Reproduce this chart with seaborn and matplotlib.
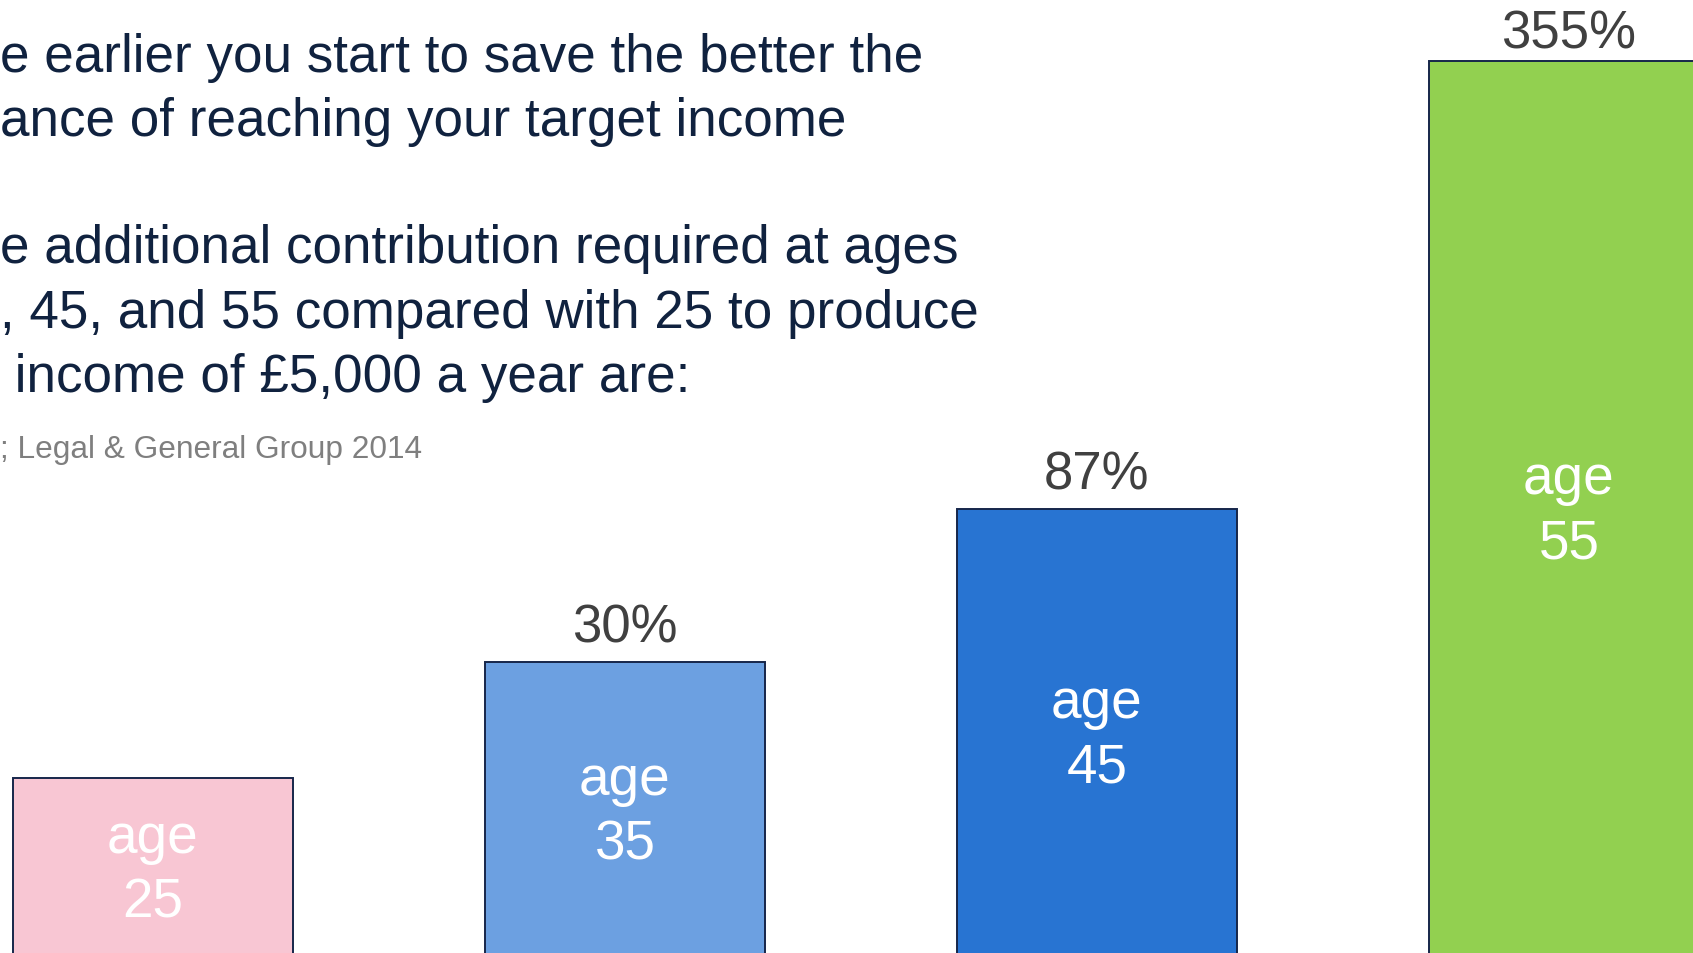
import matplotlib
matplotlib.use("Agg")
import matplotlib.pyplot as plt
import pandas as pd
import seaborn as sns

# data
ages = ["25", "35", "45", "55"]
bar_height = [184, 300, 453, 901]          # drawn height of each bar (slide units)
extra_pct = ["", "30%", "87%", "355%"]      # extra contribution compared with age 25
bar_colors = ["#F8C6D3", "#6CA0E1", "#2874D2", "#92D050"]

title_lines = [
    "e earlier you start to save the better the",
    "ance of reaching your target income",
    "e additional contribution required at ages",
    ", 45, and 55 compared with 25 to produce",
    " income of £5,000 a year are:",
]
title_baselines = [72, 136, 263, 328, 392]  # px from top
source_text = "; Legal & General Group 2014"

W, H = 1693, 954
NAVY = "#10223F"

sns.set_theme(style="white")
plt.rcParams["font.family"] = ["Liberation Sans", "DejaVu Sans"]

fig = plt.figure(figsize=(W / 100, H / 100), dpi=100)
ax = fig.add_axes([0, 0, 1, 1])

df = pd.DataFrame({"age": ages, "height": bar_height})
sns.barplot(data=df, x="age", y="height", hue="age", palette=bar_colors,
            legend=False, width=0.593, edgecolor="#16264A", linewidth=1.4,
            saturation=1, ax=ax)

ax.set_xlim(-0.324, 3.263)
ax.set_ylim(9, 963)
ax.axis("off")

for i, (h, a, p) in enumerate(zip(bar_height, ages, extra_pct)):
    ax.text(i, h / 2, f"age\n{a}", ha="center", va="center", color="white",
            fontsize=39.5, linespacing=1.32)
    if p:
        # the tallest bar's label sits a bit closer to the top of the slide
        gap = 10 if i == len(ages) - 1 else 15
        ax.annotate(p, (i, h), xytext=(0, gap), textcoords="offset points",
                    ha="center", va="baseline", color="#404040", fontsize=38)

for line, y in zip(title_lines, title_baselines):
    fig.text(0, 1 - y / H, line, ha="left", va="baseline", color=NAVY, fontsize=38.2)

fig.text(0, 1 - 458 / H, source_text, ha="left", va="baseline",
         color="#7F7F7F", fontsize=22.8)

fig.savefig("out.png", dpi=100)
